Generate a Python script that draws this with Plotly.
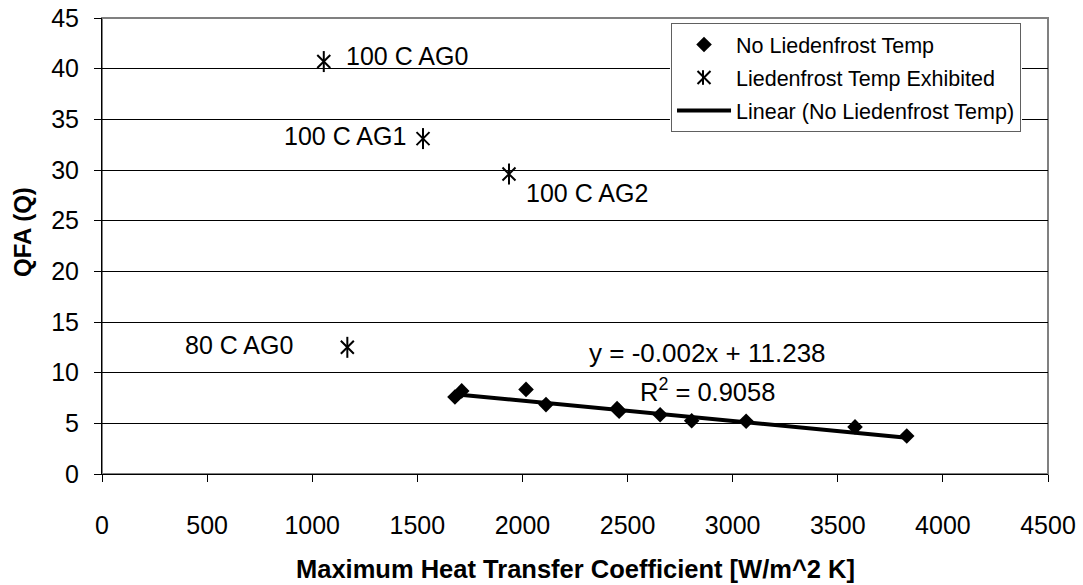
import plotly.graph_objects as go

# Data: No Liedenfrost Temp
no_lf_x = [1679, 1711, 2017, 2112, 2450, 2460, 2655, 2805, 3064, 3582, 3828]
no_lf_y = [7.6, 8.2, 8.35, 6.85, 6.45, 6.2, 5.85, 5.25, 5.2, 4.65, 3.75]

# Data: Liedenfrost Temp Exhibited
lf_x = [1055, 1527, 1936, 1167]
lf_y = [40.7, 33.1, 29.6, 12.5]
lf_labels = ["100 C AG0", "100 C AG1", "100 C AG2", "80 C AG0"]

# Trendline (as displayed on chart)
trend_slope = -0.002
trend_intercept = 11.238
trend_eq = "y = -0.002x + 11.238"
trend_r2 = "R<sup>2</sup> = 0.9058"

x_ticks = [0, 500, 1000, 1500, 2000, 2500, 3000, 3500, 4000, 4500]
y_ticks = [0, 5, 10, 15, 20, 25, 30, 35, 40, 45]

x_title = "Maximum Heat Transfer Coefficient [W/m^2 K]"
y_title = "QFA (Q)"

FONT = "Liberation Sans, Arial, sans-serif"

tx = [min(no_lf_x), max(no_lf_x)]
ty = [trend_slope * v + trend_intercept for v in tx]

fig = go.Figure()
fig.add_trace(go.Scatter(
    x=no_lf_x, y=no_lf_y, mode="markers", name="No Liedenfrost Temp",
    marker=dict(symbol="diamond", size=12, color="black"),
    legendgroup="a", legendrank=1))
fig.add_trace(go.Scatter(
    x=lf_x, y=lf_y, mode="markers", name="Liedenfrost Temp Exhibited",
    marker=dict(symbol="x-thin-open", size=13, color="black",
                line=dict(color="black", width=2)),
    legendgroup="b", legendrank=2))
fig.add_trace(go.Scatter(
    x=lf_x, y=lf_y, mode="markers", showlegend=False, hoverinfo="skip",
    marker=dict(symbol="line-ns-open", size=15, color="black",
                line=dict(color="black", width=2)),
    legendgroup="b"))
fig.add_trace(go.Scatter(
    x=tx, y=ty, mode="lines", name="Linear (No Liedenfrost Temp)",
    line=dict(color="black", width=4),
    legendgroup="c", legendrank=3))

# Labels for Liedenfrost points
label_pos = [
    dict(xanchor="left", xshift=20, yshift=6),
    dict(xanchor="right", xshift=-15, yshift=3),
    dict(xanchor="left", xshift=15, yshift=-19),
    dict(xanchor="right", xshift=-52, yshift=2),
]
for x, y, t, p in zip(lf_x, lf_y, lf_labels, label_pos):
    fig.add_annotation(x=x, y=y, text=t, showarrow=False,
                       font=dict(family=FONT, size=25, color="black"),
                       yanchor="middle", **p)

fig.add_annotation(x=2878, y=11.95, text=trend_eq, showarrow=False,
                   font=dict(family=FONT, size=26, color="black"),
                   xanchor="center", yanchor="middle")
fig.add_annotation(x=2878, y=8.3, text=trend_r2, showarrow=False,
                   font=dict(family=FONT, size=25.5, color="black"),
                   xanchor="center", yanchor="middle")

# Axis titles
fig.add_annotation(xref="paper", yref="paper", x=0.501, y=-0.2083,
                   text="<b>" + x_title + "</b>", showarrow=False,
                   font=dict(family=FONT, size=25.5, color="black"),
                   xanchor="center", yanchor="middle")
fig.add_annotation(xref="paper", yref="paper", x=-0.0846, y=0.5307,
                   text="<b>" + y_title + "</b>", showarrow=False, textangle=-90,
                   font=dict(family=FONT, size=24, color="black"),
                   xanchor="center", yanchor="middle")

# plot-area frame
fig.add_shape(type="rect", xref="paper", yref="paper", x0=0, y0=0, x1=1, y1=1,
              line=dict(color="#808080", width=2), layer="below")
# white backing behind legend (legend itself transparent)
fig.add_shape(type="rect", xref="paper", yref="paper",
              x0=0.6004, x1=0.9725, y0=0.7588, y1=0.989,
              fillcolor="white", line=dict(width=0), layer="above")
# vertical stroke completing the asterisk legend glyph
fig.add_shape(type="line", xref="paper", yref="paper",
              x0=0.6353, x1=0.6353, y0=0.8535, y1=0.8855,
              line=dict(color="black", width=2), layer="above")

fig.update_layout(
    width=1083, height=585,
    margin=dict(l=102, r=35, t=18, b=111, autoexpand=False),
    paper_bgcolor="white", plot_bgcolor="white",
    font=dict(family=FONT, color="black"),
    showlegend=True,
    legend=dict(x=0.6015, y=0.989, xanchor="left", yanchor="top",
                bgcolor="rgba(0,0,0,0)", bordercolor="#606060", borderwidth=1,
                font=dict(family=FONT, size=21.5, color="black"),
                traceorder="grouped", tracegroupgap=2, itemwidth=54),
    xaxis=dict(range=[0, 4500], tickvals=x_ticks, showgrid=False, zeroline=False,
               showline=True, linecolor="black", linewidth=1,
               ticks="outside", ticklen=7, tickcolor="black",
               tickfont=dict(family=FONT, size=25, color="black"),
               ticklabelstandoff=22, automargin=False),
    yaxis=dict(range=[0, 45], tickvals=y_ticks, showgrid=True, gridcolor="#000000",
               gridwidth=1, zeroline=False,
               showline=True, linecolor="black", linewidth=1,
               ticks="outside", ticklen=7, tickcolor="black",
               tickfont=dict(family=FONT, size=25, color="black"),
               ticklabelstandoff=10, automargin=False),
)

fig.write_html("out.html")
